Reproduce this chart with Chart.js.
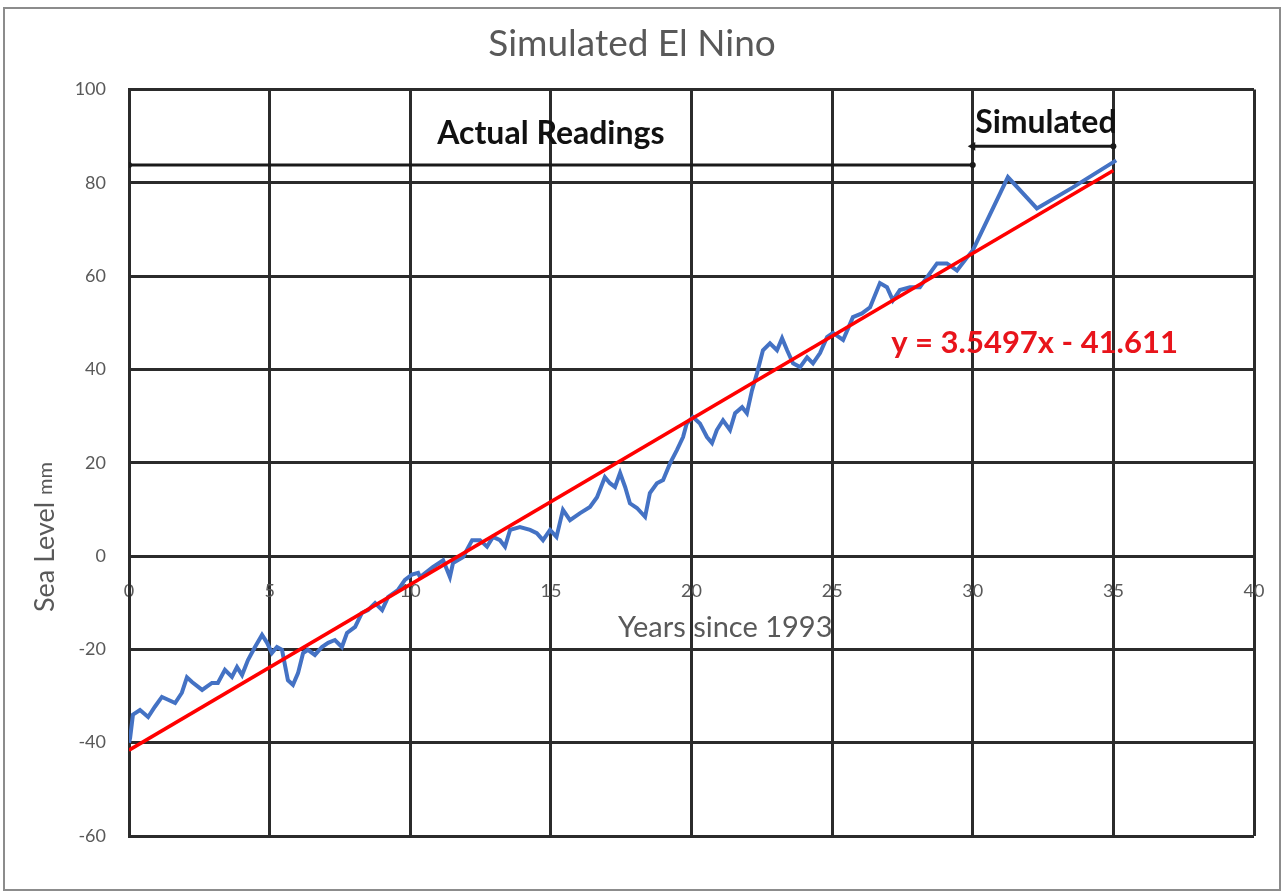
<!DOCTYPE html>
<html><head><meta charset="utf-8">
<script src="https://cdn.jsdelivr.net/npm/chart.js@4/dist/chart.umd.min.js"></script>
<style>html,body{margin:0;padding:0;background:#fff;}</style>
</head><body>
<canvas id="c" width="1283" height="894"></canvas>
<script>
// ---- data ----
const readingYears = [0.0,0.04,0.14,0.39,0.68,0.92,1.17,1.39,1.64,1.88,2.06,2.24,2.6,2.95,3.16,3.41,3.66,3.84,4.02,4.23,4.48,4.73,4.91,5.08,5.26,5.44,5.65,5.83,6.01,6.19,6.36,6.61,6.86,7.08,7.32,7.57,7.75,8.04,8.28,8.5,8.75,9.0,9.21,9.56,9.81,10.06,10.28,10.35,10.8,11.17,11.41,11.52,11.88,12.2,12.48,12.73,12.94,13.19,13.37,13.55,13.9,14.26,14.5,14.72,14.97,15.2,15.43,15.68,16.04,16.39,16.64,16.92,17.1,17.28,17.46,17.64,17.81,18.06,18.35,18.52,18.77,18.99,19.24,19.48,19.7,19.83,20.05,20.3,20.55,20.73,20.9,21.12,21.37,21.55,21.8,21.97,22.15,22.33,22.54,22.79,23.04,23.22,23.4,23.61,23.86,24.11,24.32,24.57,24.82,25.03,25.39,25.74,26.06,26.35,26.7,26.95,27.16,27.41,27.77,28.12,28.37,28.73,29.08,29.44,29.8,30.0];
const readingLevels = [-40,-39,-34,-33,-34.5,-32.3,-30.2,-30.8,-31.5,-29.3,-26,-27,-28.7,-27.2,-27.2,-24.4,-25.9,-23.8,-25.5,-22.3,-19.5,-16.9,-18.6,-20.8,-19.5,-20.1,-26.6,-27.6,-25.1,-20.8,-20.1,-21.2,-19.5,-18.6,-18,-19.5,-16.5,-15.2,-12.2,-11.6,-10.1,-11.6,-8.8,-7.3,-5.1,-4.0,-3.6,-4.5,-2.4,-0.9,-4.5,-1.5,-0.2,3.4,3.4,2,4.1,3.4,2,5.6,6.2,5.6,4.9,3.4,5.6,4.1,9.9,7.7,9.2,10.5,12.6,16.9,15.6,14.8,17.8,14.8,11.3,10.3,8.4,13.5,15.6,16.3,19.9,22.7,25.5,28.4,29.8,28.4,25.5,24.2,27,29.1,27,30.6,31.9,30.6,35.5,39.2,44.1,45.6,44.1,46.7,44.1,41.3,40.5,42.6,41.3,43.5,46.9,47.8,46.3,51.2,52,53.3,58.5,57.6,54.8,57,57.6,57.6,59.7,62.7,62.7,61.2,64,65.5];
const simulatedYears = [30.0, 31.25, 32.28, 33.56, 35.1];
const simulatedLevels = [65.5, 81.2, 74.5, 79.0, 84.8];
const trendYears = [0, 35];
const trendLevels = [-41.6, 82.6];
const actualSpanYears = [0, 30];
const actualSpanLevels = [83.8, 83.8];
const simSpanYears = [30, 35];
const simSpanLevels = [87.8, 87.8];
const chartTitle = 'Simulated El Nino';
const xAxisTitle = 'Years since 1993';
const yAxisTitleMain = 'Sea Level';
const yAxisTitleUnit = 'mm';
const actualLabel = 'Actual Readings';
const simulatedLabel = 'Simulated';
const equationLabel = 'y = 3.5497x - 41.611';

const pts = (xs, ys) => xs.map((x, i) => ({x: x, y: ys[i]}));
const GRID = '#2b2b2b';
const GRAY = '#595959';
const FONT = 'Lato, "Open Sans", sans-serif';

const decor = {
  id: 'decor',
  beforeDraw(chart) {
    const c = chart.ctx;
    c.save();
    c.fillStyle = '#fff';
    c.fillRect(0, 0, chart.width, chart.height);
    c.strokeStyle = '#8c8c8c';
    c.lineWidth = 2;
    c.strokeRect(4, 8, 1276, 882);
    c.restore();
  },
  afterDatasetsDraw(chart) {
    const c = chart.ctx, xs = chart.scales.x, ys = chart.scales.y;
    c.save();
    c.textBaseline = 'middle';
    c.textAlign = 'center';
    c.fillStyle = '#111';
    c.font = 'bold 32px ' + FONT;
    c.fillText(actualLabel, xs.getPixelForValue(15.0), ys.getPixelForValue(90.6));
    c.fillText(simulatedLabel, xs.getPixelForValue(32.6), ys.getPixelForValue(92.9));
    c.textAlign = 'left';
    c.fillStyle = '#e8141b';
    c.font = 'bold 31px ' + FONT;
    c.fillText(equationLabel, xs.getPixelForValue(27.1), ys.getPixelForValue(45.6));
    // x axis title
    c.textAlign = 'center';
    c.fillStyle = GRAY;
    c.font = '29px ' + FONT;
    c.fillText(xAxisTitle, xs.getPixelForValue(21.2), ys.getPixelForValue(-15.4));
    // y axis title (mixed sizes)
    c.translate(45, 612);
    c.rotate(-Math.PI / 2);
    c.textAlign = 'left';
    c.font = '27px ' + FONT;
    c.fillText(yAxisTitleMain, 0, 0);
    const w = c.measureText(yAxisTitleMain + ' ').width;
    c.font = '20px ' + FONT;
    c.fillText(yAxisTitleUnit, w, 1);
    c.restore();
  }
};

new Chart(document.getElementById('c'), {
  type: 'line',
  data: {
    datasets: [
      {label: 'Readings', data: pts(readingYears, readingLevels), borderColor: '#4472C4', borderWidth: 4, pointRadius: 0, tension: 0, order: 2},
      {label: 'Simulated', data: pts(simulatedYears, simulatedLevels), borderColor: '#4472C4', borderWidth: 4, pointRadius: 0, tension: 0, order: 2},
      {label: 'Trend', data: pts(trendYears, trendLevels), borderColor: '#ff0000', borderWidth: 3.5, pointRadius: 0, tension: 0, order: 1},
      {label: 'ActualSpan', data: pts(actualSpanYears, actualSpanLevels), borderColor: '#1a1a1a', borderWidth: 3, pointRadius: 3, pointBackgroundColor: '#1a1a1a', pointBorderWidth: 0, order: 3},
      {label: 'SimSpan', data: pts(simSpanYears, simSpanLevels), borderColor: '#1a1a1a', borderWidth: 3, pointStyle: ['triangle', 'circle'], pointRotation: [270, 0], pointRadius: [5, 3], pointBackgroundColor: '#1a1a1a', pointBorderWidth: 0, order: 3}
    ]
  },
  options: {
    responsive: false,
    animation: false,
    devicePixelRatio: 1,
    layout: {padding: {top: 8, left: 10, right: 29, bottom: 58}},
    plugins: {
      legend: {display: false},
      tooltip: {enabled: false},
      title: {display: true, text: chartTitle, color: GRAY, font: {family: FONT, size: 37, weight: 'normal'}, padding: {top: 14, bottom: 23}}
    },
    scales: {
      x: {
        type: 'linear', min: 0, max: 40,
        position: {y: 0},
        ticks: {stepSize: 5, color: GRAY, font: {family: FONT, size: 18}, padding: 24, maxRotation: 0},
        grid: {color: GRID, lineWidth: 3, drawTicks: false},
        border: {color: GRID, width: 3},
        afterFit(s) { s.paddingLeft = 0; s.paddingRight = 0; }
      },
      y: {
        type: 'linear', min: -60, max: 100,
        ticks: {stepSize: 20, color: GRAY, font: {family: FONT, size: 18}, padding: 23},
        grid: {color: GRID, lineWidth: 3, drawTicks: false},
        border: {color: GRID, width: 3},
        afterFit(s) { s.width = 119; }
      }
    }
  },
  plugins: [decor]
});
</script>
</body></html>
